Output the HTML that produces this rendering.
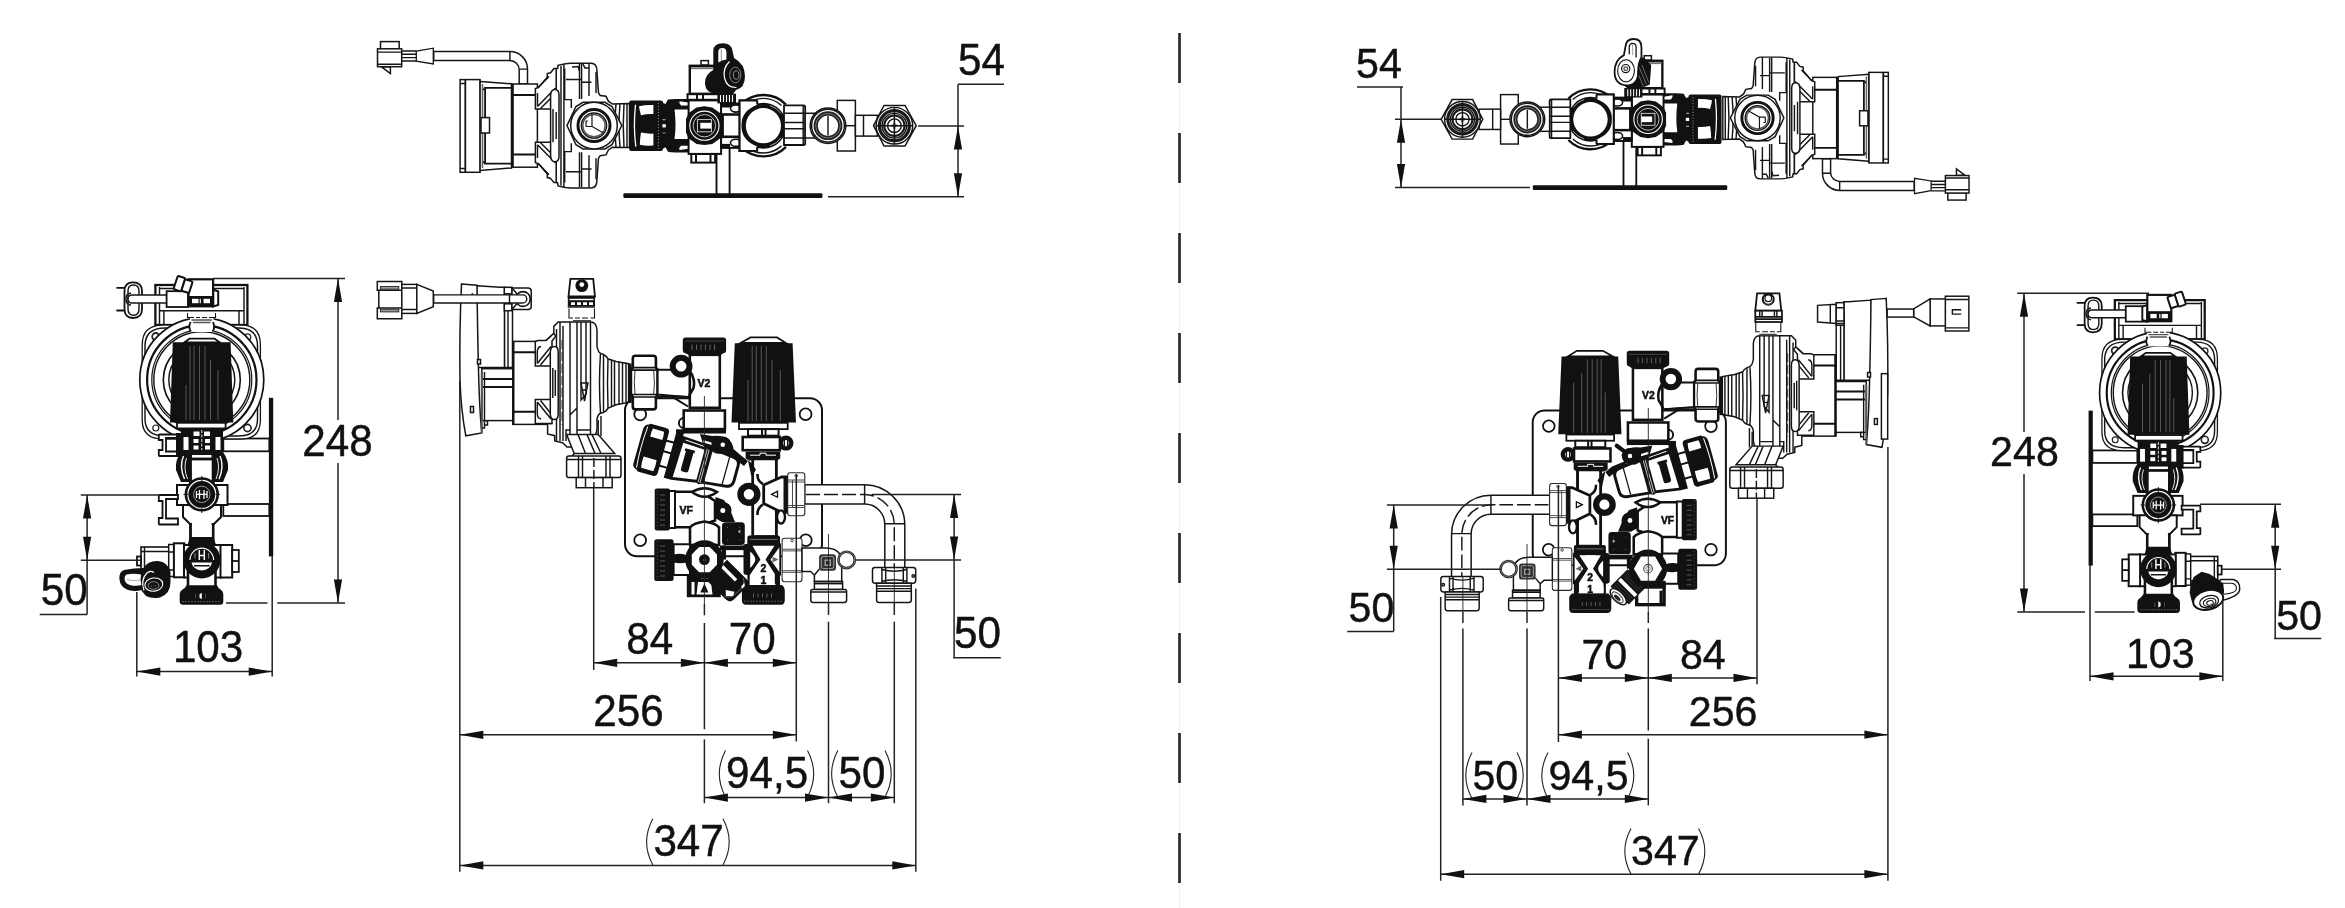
<!DOCTYPE html>
<html><head><meta charset="utf-8"><title>Dimensions</title>
<style>
html,body{margin:0;padding:0;background:#fff;}
body{width:2345px;height:908px;overflow:hidden;font-family:"Liberation Sans",sans-serif;}
svg{display:block;position:absolute;left:0;top:0;will-change:transform;}
.t{fill:none;stroke:#151515;stroke-width:1.45;}
.t2{fill:none;stroke:#111;stroke-width:1.8;}
.m{fill:none;stroke:#111;stroke-width:2;}
.h{fill:none;stroke:#111;stroke-width:3;}
.w{fill:#fff;stroke:#151515;stroke-width:1.5;}
.w2{fill:#fff;stroke:#111;stroke-width:1.8;}
.wm{fill:#fff;stroke:#111;stroke-width:2;}
.wh{fill:#fff;stroke:#111;stroke-width:3;}
.k{fill:#111;stroke:none;}
.ww{fill:#fff;stroke:none;}
.g{fill:none;stroke:#3a3a3a;stroke-width:0.9;}
.gw{fill:#fff;stroke:#2a2a2a;stroke-width:1.1;}
.d{fill:none;stroke:#222;stroke-width:1.5;}
.dd{fill:none;stroke:#222;stroke-width:1.1;stroke-dasharray:26 4 5 4;}
.ar{fill:#111;stroke:none;}
text{font-family:"Liberation Sans",sans-serif;fill:#111;}
.n{font-size:42.2px;stroke:#111;stroke-width:0.45px;}
.nr{font-size:41.2px;stroke:#111;stroke-width:0.45px;}
.lb{font-size:10px;font-weight:bold;}
.pa{fill:none;stroke:#222;stroke-width:1.1;}
.cl{fill:none;stroke:#222;stroke-width:0.9;}

</style></head><body>
<svg width="2345" height="908" viewBox="0 0 2345 908">
<defs>
<g id="toppump">
<!-- connector + cable -->
<rect class="w" x="380.5" y="41.6" width="18.7" height="7.5"/>
<rect class="w" x="377.5" y="48.8" width="24.2" height="17.9"/>
<path class="t" d="M377.5,52.1H401.7M377.5,64.2H401.7"/>
<polygon class="w" points="381.6,66.9 390.4,66.9 390.4,73.5"/>
<path class="t" d="M401.7,51H416.3M401.7,54.3H416.3M401.7,57.6H416.3M401.7,60.9H416.3"/>
<polygon class="w" style="stroke-width:1.3" points="416.3,51.2 433.3,48.2 433.3,63.9 416.3,61.2"/>
<path class="w" d="M433.7,51.5H509.9A17.6,17.6 0 0 1 527.5,69.1V84H519.2V69.9A9.3,9.3 0 0 0 509.9,60.6H433.7Z"/>
<path class="t" d="M509.9,51.5V60.6M519.2,69.1H527.5"/>
<!-- display -->
<rect class="w" x="460.1" y="79.6" width="20" height="92.7"/>
<path class="t2" d="M465.3,79.6V172.3"/>
<path class="t" d="M460.1,83.5H465.3M460.1,168.4H465.3"/>
<polygon class="w" points="480.1,81.4 511.5,83.8 511.5,168 480.1,170.4"/>
<path class="t" d="M482.5,84V168" style="stroke:#666;stroke-width:1.6"/>
<path class="t2" d="M512.1,87.9H485.1V163.6H512.1" style="stroke-width:1.8"/>
<path class="t" d="M483,90L485.1,87.9M483,161.5L485.1,163.6"/>
<rect class="w" x="481" y="117.6" width="8.5" height="15.4"/>
<rect class="w" x="512.6" y="84" width="24.8" height="83.2"/>
<path class="t2" d="M512.6,84V167.2" style="stroke-width:2.2"/>
<path class="t2" d="M513.2,95H536M513.2,154.5H536" style="stroke-width:2"/>
<!-- pump housing -->
<path class="w" d="M556.2,75.0 L556.2,69.0 L557.7,68.2 L558.0,65.3 L565.5,63.8 L570.5,63.3 L591.0,63.3 Q596.9,63.3 596.9,70.7 L598.5,93 L600.2,95.5 L606,96.3 L608.4,101.2 L612.5,104 L629.5,103.6 V147.5 L612.5,147.2 L608.4,150.0 L606,154.9 L600.2,155.7 L598.5,158.2 L596.9,180.5 Q596.9,187.9 591,187.9 L591.0,187.9 L570.5,187.9 L565.5,187.4 L558.0,185.9 L557.7,183.0 L556.2,182.2 L556.2,176.2 Z"/>
<path class="t" d="M561,66V185.5M563.9,64.5V187M564.7,68.6V99.6H571.3V108M564.7,182.6V151.6H571.3V143.2"/>
<path class="t" d="M566,79.4H581M582,82.2H591.5M579.5,64V99M581.6,64V99M589,63.5V96M596,72V93"/>
<path class="t" d="M566,171.8H581M582,169.0H591.5M579.5,187.2V152.2M581.6,187.2V152.2M589,187.7V155.2M596,179.2V158.2"/>
<path class="t" d="M572,67L578,66.5 579.5,71M583,64L585,68H589"/>
<!-- brackets -->
<path class="w" d="M535.4,109.0 L535.4,88.5 L538.3,87.6 L547.3,77.3 L547.3,73.6 L550.6,72.8 L553.9,68.6 L556.2,68.6 L556.2,109.0 Z"/>
<path class="t" d="M537.5,106.5L555.5,88M540.5,108.5L556,93M537.5,106.5V93M538.3,87.6L549,76.5"/>
<path class="w" d="M535.4,142.2 L535.4,162.7 L538.3,163.6 L547.3,173.9 L547.3,177.6 L550.6,178.4 L553.9,182.6 L556.2,182.6 L556.2,142.2 Z"/>
<path class="t" d="M537.5,144.7L555.5,163M540.5,142.7L556,158M537.5,144.7V158M538.3,163.6L549,174.7"/>
<path class="w" d="M550.6,109V95Q551,89.5 555,89.5Q559,89.5 559,95V156Q559,161.7 555,161.7Q551,161.7 550.6,156V142.2Z"/>
<path class="t" d="M553,109V142.2M556.2,112V139"/>
<!-- neck ribs -->
<path class="t" d="M616,104Q614,125.6 616,147M620,104Q618,125.6 620,147M624,103.8Q622.5,125.6 624,147.2M627,103.7V147.4"/>
<!-- volute -->
<polygon class="w" points="567,125.6 576,106.5 583,102.3 605,102.3 612,106.5 621.8,125.6 612,144.7 605,149 583,149 576,144.7"/>
<circle class="w" cx="594" cy="125.6" r="23.3"/>
<circle cx="594" cy="125.6" r="16" fill="#fff" stroke="#111" stroke-width="3"/>
<circle class="t" cx="594" cy="125.6" r="12.6"/>
<circle class="t" cx="594" cy="125.6" r="11.2" style="stroke:#555"/>
<path class="t" d="M592,114.5V126.5L603.5,133M592,126.5H586M586,121V126.5M586,121H588" style="stroke-width:1.2"/>

</g>
<g id="topvalve">
<!-- stand + base -->
<path class="m" d="M716.5,150V194M729.6,140V194" style="stroke-width:1.9"/>
<rect class="k" x="623.4" y="193.2" width="199" height="4.8" rx="1"/>
<!-- solenoid box -->
<rect class="w" x="701" y="60.6" width="7.4" height="4.5"/>
<rect x="689.8" y="65.8" width="26" height="28" fill="#fff" stroke="#111" stroke-width="2.4"/>
<path d="M691,68.2H715" stroke="#777" stroke-width="2" fill="none"/>
<rect class="wm" x="687.5" y="94.2" width="34.5" height="5.6"/>
<path class="m" d="M697,94.2V99.8M703,94.2V99.8"/>
<!-- black nut -->
<path class="k" d="M631,100.4H661Q663.2,100.4 663.2,103L665.5,104 668,99.5Q670,98.9 676,98.9H688.4V152.4H676Q670,152.4 668,151.8L665.5,147.3 663.2,148.5Q663.2,150.9 661,150.9H631Q629.2,150.9 629.2,149V102.3Q629.2,100.4 631,100.4Z"/>
<path class="ww" d="M639,106.2Q646,104.6 653.4,105V114Q646,113.8 641,115.2Q639.3,110 639,106.2Z"/>
<path class="ww" d="M641,132.5Q646,133.8 653.4,133.6V145.5Q646,146 639.8,144.8Q640,138 641,132.5Z"/>
<path d="M635.5,104.8Q633.2,125.6 635.8,146.6" fill="none" stroke="#fff" stroke-width="1.3"/>
<path d="M658.4,103V149" fill="none" stroke="#bbb" stroke-width="0.7" stroke-dasharray="1.2 1.8"/>
<path d="M662.5,119.7H665.5M662.5,133H665.5" stroke="#999" stroke-width="1.2" fill="none"/>
<rect class="ww" x="662.4" y="124.2" width="3.4" height="3.2"/>
<path class="ww" d="M674.5,109.6H688.4V139H674.5Q676.5,125 674.5,109.6Z"/>
<path class="ww" d="M679.5,101.2L688.4,102.5V105.5H681Q678.5,103.5 679.5,101.2ZM679.5,150L688.4,148.8V145.8H681Q678.5,147.8 679.5,150Z"/>
<!-- valve box -->
<rect class="wm" x="691.3" y="154" width="23.8" height="8.6"/>
<path class="m" d="M696,154V162.6M710.5,154V162.6"/>
<rect x="688.6" y="100.4" width="32.5" height="53.5" fill="#fff" stroke="#111" stroke-width="2"/>
<path class="k" d="M696.5,107.5L704.4,106.3 712.3,107.5 720,113 722.7,119 722.7,132.4 720,138.4 712.3,143.9 704.4,145.1 696.5,143.9 688.8,138.4 686,132.4 686,119 688.8,113Z"/>
<circle cx="704.4" cy="125.7" r="14.6" fill="none" stroke="#fff" stroke-width="1.1"/>
<circle cx="704.4" cy="125.7" r="11.2" fill="none" stroke="#eee" stroke-width="0.8"/>
<rect x="697.4" y="119.6" width="14" height="12.2" fill="none" stroke="#ddd" stroke-width="0.9"/>
<rect class="ww" x="700.3" y="122.8" width="11" height="5.8"/>
<!-- link pipe valve -> big circle -->
<rect class="wm" x="721.1" y="103.5" width="20" height="44.4"/>
<rect class="k" x="721.1" y="103.5" width="20" height="4"/>
<rect class="k" x="721.1" y="143.9" width="9" height="4"/>
<ellipse cx="736" cy="108.5" rx="5.5" ry="3.6" fill="#fff" stroke="#111" stroke-width="1.6"/>
<ellipse cx="736" cy="142.8" rx="5.5" ry="3.6" fill="#fff" stroke="#111" stroke-width="1.6"/>
<rect x="722.6" y="114.5" width="21" height="22.3" fill="#fff" stroke="#111" stroke-width="2.6"/>
<!-- big circle assy -->
<path d="M742,103.5A31.5,31.5 0 0 1 786,104.5" fill="none" stroke="#111" stroke-width="2.4"/>
<path d="M742,147.9A31.5,31.5 0 0 0 786,146.9" fill="none" stroke="#111" stroke-width="2.4"/>
<path class="t" d="M745.5,105A27,27 0 0 1 781.5,105.5M745.5,146.4A27,27 0 0 0 781.5,145.9"/>
<rect class="wm" x="739.6" y="100.4" width="17" height="50.5"/>
<circle class="k" cx="763.4" cy="125.7" r="23"/>
<path class="ww" d="M757.2,100.4H739.6V150.9H757.2V146.5Q741,140 741.5,125.7Q741,111 757.2,104.8Z" />
<path class="m" d="M757.2,100.4H739.6V150.9H757.2"/>
<path class="m" d="M757.2,100.4V104.6M757.2,150.9V146.7"/>
<circle class="ww" cx="763.4" cy="125.7" r="17.6"/>
<path d="M770,105.5A21.5,21.5 0 0 1 781,113.5M770,145.9A21.5,21.5 0 0 0 781,137.9" fill="none" stroke="#ccc" stroke-width="0.8"/>
<!-- nut right of big circle -->
<path class="w2" d="M784,105.3H803.5Q805.2,105.3 805.2,107V143.3Q805.2,145 803.5,145H784Z"/>
<path class="t" d="M784,113.3H805.2M784,138H805.2M784,122.5H805.2M784,128.8H805.2M803.2,105.3V145"/>
<!-- pipe -->
<rect class="w" x="805.2" y="113.3" width="33" height="24.7"/>
<!-- T bracket -->
<rect class="w" x="837.3" y="100.4" width="18.1" height="50.6"/>
<path class="t" d="M837.3,125.7H855.4"/>
<!-- ring -->
<circle class="w" cx="828" cy="125.7" r="17.8"/>
<circle class="t" cx="828" cy="125.7" r="16.4"/>
<circle cx="828" cy="125.7" r="12.3" fill="#fff" stroke="#222" stroke-width="4.2"/>
<circle cx="828" cy="125.7" r="12.3" fill="none" stroke="#999" stroke-width="0.7"/>
<path class="t" d="M828,116V135.4"/>
<!-- pipe 2 -->
<rect class="w" x="855.4" y="115.3" width="22" height="20.8"/>
<path class="t" d="M863.5,115.3V136.1"/>
<!-- hex nut -->
<polygon class="w" points="873.6,125.7 884,105.5 905,105.5 916.2,125.7 905,146 884,146"/>
<circle class="t" cx="894.4" cy="125.7" r="18.3"/>
<circle cx="894.4" cy="125.7" r="15" fill="none" stroke="#1a1a1a" stroke-width="3.2"/>
<circle class="t" cx="894.4" cy="125.7" r="12.3"/>
<circle cx="894.4" cy="125.7" r="10.2" fill="none" stroke="#1a1a1a" stroke-width="2.2"/>
<circle class="t" cx="894.4" cy="125.7" r="6.8"/>
<path class="t" d="M876,125.7H913M894.4,107V144.5"/>
<path class="t2" d="M891.4,125.7H897.4M894.4,122.7V128.7"/>

</g>
<g id="frontpump">
<!-- terminal box / display side -->
<path class="w" d="M476.7,285.7L500,287.3 504.6,287.3V367.5H476.7Z"/>
<path class="w" d="M504.6,300V367.5H512.5V300Z"/>
<path class="t" d="M508,300V367.5"/>
<path class="w" d="M461.5,283.9L477,285.2Q477.5,330 478.5,370Q479.5,410 481.8,433L465.8,435.8Q461,410 460,381Q459.3,330 461.5,283.9Z"/>
<rect class="w" x="477.5" y="359.5" width="3" height="4.6"/>
<rect class="w" x="470.5" y="406.5" width="3" height="6"/>
<!-- motor part 1 -->
<rect class="w" x="481.8" y="368.7" width="31.6" height="51.9"/>
<path class="t2" d="M483,378.9H513.4M483,387H513.4" style="stroke-width:2"/>
<path class="t" d="M481.8,372V433" style="stroke:#555;stroke-width:2"/>
<path class="t" d="M484.5,372V428H481.8M484.5,420.6H487.5V425H484.5"/>
<!-- motor part 2 -->
<rect class="w" x="512.8" y="341.4" width="38.6" height="83"/>
<path class="t2" d="M513.4,341.4V424.4" style="stroke-width:2.2"/>
<path class="t2" d="M513.4,352.3H536M513.4,411.8H536" style="stroke-width:2"/>
<!-- pump housing -->
<path class="w" d="M551.4,343.4V336H553.8V326.4L558.2,322H590.8Q596.3,322 597,330V346Q598,352.5 601,353.5Q606,355 607.8,358.8L616,361.5 628.6,363.7V402.4L616,404.7 607.8,408.3Q606,412 601,413Q598,414 597,419V429Q596.5,437 590,438.5L584,441 580,447H567L562.6,442.8 554.7,441V435.7L547.6,434V423.4H551.4Z"/>
<path class="t" d="M556.5,329V441M560,322V441M563,326V441"/>
<path d="M562,340V425" fill="none" stroke="#222" stroke-width="0.9" stroke-dasharray="9 3"/>
<path class="t" d="M570,322V415L577,408V322M581,322V400L586,394V322M590.5,322V436M570,415V441M577,408V441H590"/>
<path class="t" d="M577,430H590M566,441V430H570"/>
<path class="t" d="M581,383H588L584.5,401ZM582.5,390H586.5"/>
<path class="t" d="M600.5,353.5Q598.5,383 600.5,413M603.5,355V411.5M608,359Q607,383 608,408M611.5,360V406M614.5,361V405.5M619,362V404.5M622.5,362.8V403.5M626,363.2V403"/>
<!-- brackets -->
<path class="w" d="M535.3,341.5L538,340.5H546L553.5,333.5 556,336 552,341V366.1H535.3Z"/>
<path class="t" d="M537.3,363.5L551,346.5M540.5,365L552,351M537.3,363.5V352Q537.3,347 541,346.5M546,340.5L552,335"/>
<path class="w" d="M535.3,399.6H552V423.4H535.3Z"/>
<path class="t" d="M537.3,402L551,419M540.5,400.5L552,415M537.3,402V413.5Q537.3,418.5 541,419"/>
<path class="w" d="M550.3,366.1V352Q550.5,346.5 554.3,346.5Q558.2,346.5 558.2,352V414Q558.2,419.6 554.3,419.6Q550.5,419.6 550.3,414V399.6Z"/>
<path class="t" d="M552.8,368V398M555.3,370V396"/>
<!-- air vent -->
<path class="t" d="M569,308.5V318H573M594.5,308.5V318H590.5M575,318H580M582,318H588" style="stroke-width:1.1"/>
<path class="t" d="M573,321H591" style="stroke:#444;stroke-width:2"/>
<!-- outlet and union nut -->
<path class="w" d="M566.6,434.6H598.2L614.7,453.5H574.2Z"/>
<path class="t" d="M578,434.6L585.5,453.5M587,434.6L595,453.5M592,434.6L601,453.5M574.2,453.5L572,456"/>
<path class="t" d="M598.2,434.6V420M601,436V416"/>
<path class="w" d="M569,456H618.5Q621,456 621,458.5V475Q621,477.6 618.5,477.6H569Q566.6,477.6 566.6,475V458.5Q566.6,456 569,456Z"/>
<path class="t" d="M578.5,456V477.6M582.5,456V477.6M606,456V477.6M610,456V477.6M566.6,459.5H621"/>
<rect class="w" x="576.2" y="477.6" width="36" height="10.1"/>
<path class="t" d="M585.5,477.6V487.7M603,477.6V487.7"/>
<path class="t" d="M593.9,458V488" style="stroke-dasharray:9 3"/>

</g>
<g id="frontvalve">
<!-- mounting plate -->
<rect x="625" y="398.2" width="197" height="158" rx="12" ry="12" fill="#fff" stroke="#111" stroke-width="2"/>
<circle class="w2" cx="640.2" cy="414.4" r="5.9"/>
<circle class="w2" cx="805.6" cy="414.2" r="5.9"/>
<circle class="w2" cx="640.2" cy="540.2" r="5.9"/>
<circle class="w2" cx="805.8" cy="540.3" r="5.9"/>
<!-- elbow pipe right -->
<path class="w" d="M804.7,484.7H864.6A40.2,40.2 0 0 1 904.8,524.9V568H884.8V524.9A20.2,20.2 0 0 0 864.6,504.1H804.7Z"/>
<path class="t" d="M864.6,484.7V504.1M884.8,523.8H904.8"/>
<path class="t" d="M806,494.4H864.6A30.2,30.2 0 0 1 894.3,524.9V568" style="stroke-dasharray:14 4"/>
<!-- upper union nut (thin) -->
<path class="gw" d="M790,472.8H802.5Q804.8,472.8 804.8,475.5V513Q804.8,515.7 802.5,515.7H790Q787.7,515.7 787.7,513V475.5Q787.7,472.8 790,472.8Z"/>
<path class="g" d="M787.7,480H804.8M787.7,482H804.8M787.7,505.5H804.8M787.7,507.5H804.8M792.5,480V507.5"/>
<circle class="g" cx="796.3" cy="475.8" r="1.3"/>
<!-- lower union nut (thin) -->
<path class="gw" d="M784.5,538.2H799.7Q802,538.2 802,540.8V579Q802,581.7 799.7,581.7H784.5Q782.1,581.7 782.1,579V540.8Q782.1,538.2 784.5,538.2Z"/>
<path class="g" d="M782.1,549.2H802M782.1,550.9H802M782.1,570.7H802M782.1,572.3H802"/>
<circle class="g" cx="792" cy="540.6" r="1.3"/>
<!-- small elbow fitting -->
<path class="w" d="M802,548H825Q841.7,548 841.7,562V581.6H814.4V575L810.5,571.5H802Z"/>
<path class="t" d="M814.4,575L819.5,569"/>
<path class="w" d="M814.4,581.6H842.6V589.5H814.4Z"/>
<path class="t2" d="M814.4,583.5H842.6" />
<path class="w" d="M812.5,589.5H845Q846.6,589.5 846.6,591.5V600Q846.6,602.4 844.5,602.4H813Q810.8,602.4 810.8,600V591.5Q810.8,589.5 812.5,589.5Z"/>
<path class="t" d="M810.8,592H846.6"/>
<circle cx="846.6" cy="559.9" r="8.2" fill="#fff" stroke="#222" stroke-width="2.6"/>
<circle cx="846.6" cy="559.9" r="8.2" fill="none" stroke="#aaa" stroke-width="0.6"/>
<rect x="819.1" y="554.3" width="16.9" height="16.4" rx="3" fill="#333"/>
<rect x="821.3" y="556.5" width="12.5" height="12" rx="2" fill="none" stroke="#bbb" stroke-width="0.8"/>
<rect x="824.5" y="559.5" width="6.5" height="6.5" fill="#999"/>
<path d="M826,561H829.5V564.5H826Z" fill="#222"/>
<!-- right union nut at bottom -->
<path class="w" d="M875,567.5H913Q915.7,567.5 915.7,570V580.6Q915.7,583.3 913,583.3H875Q872.5,583.3 872.5,580.6V570Q872.5,567.5 875,567.5Z"/>
<path class="t" d="M881.9,567.5V583.3M885.7,567.5V583.3M903.3,567.5V583.3M906.9,567.5V583.3M881.9,569.5Q894,573 906.9,569.5M881.9,581.3Q894,578 906.9,581.3"/>
<circle class="t" cx="913.3" cy="576" r="1.3"/>
<path class="w" d="M876.6,583.3H911.3V600Q911.3,602.4 909,602.4H879Q876.6,602.4 876.6,600Z"/>
<path class="t" d="M876.6,586H911.3M876.6,588.6H911.3M876.6,591.3H911.3"/>
<!-- hex nut to pump -->
<path d="M635.5,355.8H653.3Q655.9,355.8 655.9,358.4V367.5L657.6,369.5V395L655.9,397V406.8Q655.9,409.4 653.3,409.4H635.5Q632.8,409.4 632.8,406.8V397L630.9,395V369.5L632.8,367.5V358.4Q632.8,355.8 635.5,355.8Z" fill="#fff" stroke="#111" stroke-width="2.6" stroke-linejoin="round"/>
<path d="M632.8,367.6H655.9M631,370.2H657.5M631,394.5H657.5M632.8,397H655.9" fill="none" stroke="#111" stroke-width="1.7"/>
<path class="t" d="M635,371Q633.6,382.5 635,394M653.7,371Q655.1,382.5 653.7,394" style="stroke:#333;stroke-width:1"/>
<rect class="k" x="628.4" y="363.5" width="3.2" height="39.5"/>
<!-- pipe nut->V2 -->
<path class="wm" d="M657.6,369.7H691V397.4L657.6,394.6Z"/>
<path class="m" d="M657.6,397L672,396.6 688,406.5M670,396L689,397"/>
<!-- V2 valve -->
<path class="k" d="M685.5,337.4H723.4Q726.1,337.4 726.1,340V350.8Q726.1,353 723.5,353.3L721,354.8H688.5L685.4,353.3Q682.8,353 682.8,350.8V340Q682.8,337.4 685.5,337.4Z"/>
<path d="M692,344.5V350M696.5,344.5V350M701,344.5V350M705.5,344.5V350M710,344.5V350M714.5,344.5V350" stroke="#777" stroke-width="0.8" fill="none"/>
<path d="M685,341H724" stroke="#666" stroke-width="0.6" fill="none"/>
<rect x="689.8" y="354.8" width="30" height="53" fill="#fff" stroke="#111" stroke-width="2.6"/>
<rect x="683.7" y="410.5" width="41.2" height="18.6" fill="#fff" stroke="#111" stroke-width="2.6"/>
<!-- ring on V2 -->
<path d="M690.5,372Q695.5,380 693.5,388Q690.5,393 689,396" fill="none" stroke="#111" stroke-width="2.6"/>
<circle cx="681.1" cy="366.2" r="8.4" fill="#fff" stroke="#111" stroke-width="6"/>
<!-- small arc ring left of lower nut -->
<path d="M684,418A5,5 0 0 0 683.7,428" fill="none" stroke="#111" stroke-width="2"/>
<!-- actuator -->
<path class="w2" d="M740.6,343L750.5,337.4H777L786,343Z"/>
<path class="k" d="M734.8,343.2H792.6L796,422.5H731.5Z"/>
<path d="M752.2,346V421M756.3,346V421M761.3,346V421M766.3,346V421M772,360V421M780.3,370V421M748,380V421" stroke="#8a8a8a" stroke-width="0.6" fill="none"/>
<rect class="w2" x="739" y="422.8" width="48.7" height="6.3"/>
<rect class="wm" x="748" y="429.1" width="30.6" height="6.6"/>
<path class="m" d="M762,429.1V435.7M765.5,429.1V435.7"/>
<circle cx="786" cy="443.1" r="5.3" fill="#fff" stroke="#111" stroke-width="4.4"/>
<path class="t" d="M784.3,440V446.2M787.7,440V446.2"/>
<rect x="742.7" y="437" width="37.2" height="13.2" fill="#fff" stroke="#111" stroke-width="2.6"/>
<path class="k" d="M745.6,451.4H780.2V458.5L777,460.5H749L745.6,458.5Z"/>
<path d="M750,455.2H760V453.2H766V455.2H776" stroke="#fff" stroke-width="1" fill="none"/>
<!-- vertical pipe -->
<path d="M752.8,459V536M776.3,459V480M776.3,510V536" fill="none" stroke="#111" stroke-width="3"/>
<rect class="ww" x="754.3" y="460.5" width="20.5" height="76"/>
<path class="k" d="M748,460.5Q752,462 756,470L751.3,476Z"/>
<!-- right triangle port -->
<path d="M763.7,485L781.5,477H786V512.3H781.5L763.7,503.5Z" fill="#fff" stroke="#111" stroke-width="2.8" stroke-linejoin="round"/>
<path class="k" d="M783.5,476H787.5V513.5H783.5Z"/>
<path d="M771.5,494.3L777.5,491.3V497.3Z" fill="#fff" stroke="#111" stroke-width="1.3"/>
<path d="M763,484Q757,481 757.5,474M763,504.5Q757,508 757.5,515" fill="none" stroke="#111" stroke-width="2.6"/>
<ellipse cx="781" cy="517" rx="4" ry="6.6" fill="#fff" stroke="#111" stroke-width="2.4"/>
<!-- ring mid -->
<circle cx="748.9" cy="494.3" r="8.4" fill="#fff" stroke="#111" stroke-width="6.4"/>
<!-- angled compression fitting -->
<g transform="translate(651.7,450) rotate(15.5)">
<path class="k" d="M19,-26H26.5V-22L52,-20.5 54,-20.5 58,-19 82,-16.5Q89,-15 89,-8V8Q89,15 82,16.5L58,19 54,20.5 52,19.5 26.5,23.5H19Z"/>
<path class="ww" d="M28.5,-15.5L51,-14.3V16.6L27.5,20.5Z"/>
<path class="ww" d="M59,-16L81,-13.5Q86,-12.5 86,-8V8Q86,12.5 81,13.5L59,16Z"/>
<path d="M53.3,-18.5V18.5M55.3,-19V19" stroke="#fff" stroke-width="0.7" fill="none"/>
<path class="ww" d="M30,-19.3L50,-17.9V-16.9L30,-18.3Z"/>
<path class="k" d="M33.2,-7.5Q33.2,-10 35.7,-10H38.5Q41,-10 41,-7.5V10Q41,12.5 38.5,12.5H35.7Q33.2,12.5 33.2,10Z"/>
<path class="k" d="M32,-10.8H42V-8H32Z"/>
<path d="M77,-14V14" stroke="#111" stroke-width="1.3" fill="none"/>
<rect x="10" y="-13" width="10" height="26" fill="#fff" stroke="#111" stroke-width="2"/>
<path class="m" d="M10,-2H20"/>
<path class="k" d="M-9,-24Q-9,-25 -7,-25H8Q12,-25 12,-21V20Q12,24.5 8,24.5H-7Q-9,24.5 -9,23Q-14,22 -14,18V-17Q-14,-23 -9,-24Z"/>
<path class="ww" d="M-4.5,-21H7Q8,-16.5 7.5,-12.5H-5Q-5.5,-17 -4.5,-21Z"/>
<path class="ww" d="M-6,8.5H7.5Q8.2,14 7.2,20H-5.5Q-6.6,14 -6,8.5Z"/>
<path d="M-10,-21.5Q-12,0 -10,21" stroke="#fff" stroke-width="1" fill="none"/>
</g>
<!-- VF fitting -->
<path class="wh" d="M674.5,491.8H700Q706,491.8 709,497L715,501V520.5L709,522.5Q706,527.3 700,527.3H674.5Z" style="stroke-width:2.6"/>
<path class="wm" d="M669,491H675V528H669Z"/>
<path class="k" d="M657,488.5H668Q669.8,488.5 669.8,490.5V528.6Q669.8,530.6 668,530.6H657Q654.7,530.6 654.7,528.6V490.5Q654.7,488.5 657,488.5Z"/>
<path d="M660,495H665M660,500H665M660,505H665M660,510H665M660,515H665M660,520H665M660,525H665" stroke="#777" stroke-width="0.7" fill="none"/>
<path d="M657.3,490V529" stroke="#666" stroke-width="0.6" stroke-dasharray="1.5 2" fill="none"/>
<!-- lens between angled fitting and VF -->
<path d="M692,492Q704.5,484.5 717,492Q704.5,501.5 692,492Z" fill="#fff" stroke="#111" stroke-width="2.6"/>
<!-- column under VF -->
<path d="M690,527.3Q694,523 704.4,521.5Q715,523 719,527.3V545H690Z" fill="#fff" stroke="#111" stroke-width="2.6"/>
<!-- small ring -->
<path class="k" d="M715.5,497L724,500 731,512 735,522H722L715,518Z"/>
<circle cx="722.8" cy="510.5" r="5.6" fill="#fff" stroke="#111" stroke-width="6.2"/>
<!-- black tag -->
<rect class="k" x="722" y="522.2" width="22.8" height="22.8" rx="3.5"/>
<path d="M737.8,531.5L740.3,529.6V533.4Z" fill="#bbb"/>
<path d="M727,527.5H728M739,527.5H740M727,540H728M739,540H740" stroke="#666" stroke-width="1" fill="none"/>
<!-- lower-left fitting -->
<path class="wm" d="M673.6,544.2H690V575H673.6Z"/>
<path class="k" d="M657,539.3H671.5Q673.6,539.3 673.6,541.5V554.5Q680,553 686.3,555V562.5Q680,564 673.6,562.5V579Q673.6,581.1 671.5,581.1H657Q654.3,581.1 654.3,579V541.5Q654.3,539.3 657,539.3Z"/>
<path d="M660,546H665M660,551H665M660,556H665M660,561H665M660,566H665M660,571H665M660,576H665" stroke="#777" stroke-width="0.7" fill="none"/>
<path d="M657.3,541V580" stroke="#666" stroke-width="0.6" stroke-dasharray="1.5 2" fill="none"/>
<!-- link bar between ball valve and 2/1 valve -->
<rect class="k" x="720" y="545.5" width="26" height="4.6"/>
<rect class="k" x="722" y="545.5" width="4" height="14"/>
<!-- 2/1 valve -->
<rect x="753.2" y="536.5" width="22.8" height="9" fill="#fff" stroke="#111" stroke-width="2.6"/>
<rect class="k" x="747.4" y="535.4" width="32.6" height="8.3" rx="2"/>
<path d="M750,539.4H777.5" stroke="#888" stroke-width="0.8" fill="none"/>
<path class="k" d="M747.4,541H780V545L768.5,559.6 780,574V586H747.4V574L757.8,559.6 747.4,545Z"/>
<path class="k" d="M743.5,545.5Q743.5,543.7 747.4,543.7H750.5L758,559.6 750.5,575H747.4Q743.5,575 743.5,572.5Z"/>
<path class="k" d="M781,544Q781,543 779,543H777L768.3,559.6 777,576H779Q781,576 781,574.5Z"/>
<path class="ww" d="M750.2,551.5Q755.3,556 755.3,559.6Q755.3,563 750.2,568Z"/>
<path class="ww" d="M779.3,547.5L770.5,559.6 779.3,572Z"/>
<path d="M778.5,559.6L772.5,556.7V562.5Z" fill="#666"/>
<path class="ww" d="M757.8,546H768.5L760.5,559.6 768.5,573.5 775.8,585H749.8V577.5L757.8,573.5 765.5,559.6Z"/>
<path class="ww" d="M752.5,545.8H774.5L765.5,559.6 774.8,574V585H749.8V575L760.5,559.6Z"/>
<path class="k" d="M745,585H782Q784.8,587 784.8,590V600Q784.8,604.8 781,604.8H746Q741.9,604.8 741.9,600V590Q741.9,587 745,585Z"/>
<path d="M753.5,593.5V597.5M758,593.5V597.5M762.5,593.5V597.5M767,593.5V597.5M771.5,593.5V597.5" stroke="#777" stroke-width="0.8" fill="none"/>
<path d="M744,601.2H782.5" stroke="#666" stroke-width="0.8" stroke-dasharray="2 1" fill="none"/>

</g>
<g id="sideA">
<!-- wall bar + brackets -->
<rect class="k" x="268.9" y="397.8" width="4.3" height="158.6"/>
<rect class="wm" x="223.3" y="438.5" width="46" height="12.8" style="stroke-width:1.8"/>
<rect class="wm" x="223.3" y="504" width="46" height="12" style="stroke-width:1.8"/>

</g>
<g id="sidepump">
<!-- electrical box -->
<rect x="155.4" y="285" width="92" height="40" fill="#fff" stroke="#111" stroke-width="2.3"/>
<path class="t" d="M159.5,287V325M244,287V325M159.5,310.8H244M163.9,310.8V325M239,310.8V325M159.5,288.5H244"/>
<!-- connector -->
<path class="t2" d="M116.4,287.9H125M116.4,310.5H125"/>
<path class="w2" d="M133,282.4Q142,282.4 142,291V309Q142,318 133,318Q124.5,318 124.5,309V291Q124.5,282.4 133,282.4Z"/>
<path class="t" d="M133.5,285Q139,285 139,291V309Q139,315.2 133.5,315.2Q128,315.2 128,309V291Q128,285 133.5,285Z"/>
<path class="w" d="M132,295H168V303H132Q128,303 128,299Q128,295 132,295Z"/>
<path class="t" d="M131,293Q126,293.5 126,299Q126,304.5 131,305.2"/>
<rect class="w2" x="166.6" y="291.2" width="21.4" height="15.8"/>
<!-- pump housing -->
<path class="w" d="M163,325.1H241Q260.4,325.1 260.4,345V420Q260.4,439 241,439H163Q142.2,439 142.2,420V345Q142.2,325.1 163,325.1Z" style="stroke-width:1.3"/>
<path class="t" d="M165,328H239Q257.5,328 257.5,346V419Q257.5,436 239,436H165Q145,436 145,419V346Q145,328 165,328Z"/>
<circle cx="155.8" cy="336.6" r="3.6" fill="#fff" stroke="#222" stroke-width="1.8"/>
<circle cx="247.5" cy="337" r="3.2" fill="#fff" stroke="#222" stroke-width="1.3"/>
<circle cx="155.8" cy="428" r="3" fill="#fff" stroke="#222" stroke-width="1.2"/>
<circle cx="247.5" cy="428" r="3.6" fill="#fff" stroke="#222" stroke-width="1.6"/>
<circle cx="201.8" cy="379.8" r="62" fill="#fff" stroke="#111" stroke-width="1.7"/>
<circle cx="201.8" cy="379.8" r="54.7" fill="none" stroke="#111" stroke-width="2.2"/>
<circle cx="201.8" cy="379.8" r="50" fill="none" stroke="#111" stroke-width="1.2"/>
<circle class="t" cx="201.8" cy="379.8" r="48"/>
<circle cx="201.8" cy="379.8" r="38.5" fill="none" stroke="#111" stroke-width="1.6"/>
<circle class="t" cx="201.8" cy="379.8" r="33"/>

</g>
<g id="sideB">
<!-- notch at the top of ring -->
<path class="ww" d="M190,315H213.5V332H190Z"/>
<path class="t2" d="M190.5,322Q188,328 191,331.5M213,322Q215.5,328 212.5,331.5"/>
<!-- actuator -->
<path class="w2" d="M184.5,342.3L189.5,338.7H214.6L219.6,342.3Z"/>
<path class="k" d="M172.8,342.3H230.6L233.3,422.5H170Z"/>
<path d="M190,346V420M194,346V420M199.5,346V420M205,346V420M210.5,360V420M218,370V420M186,385V420" stroke="#8a8a8a" stroke-width="0.6" fill="none"/>
<rect class="w2" x="177" y="422.8" width="48.6" height="5.6"/>
<!-- below actuator: black assembly -->
<path class="k" d="M181,428.4H223V452Q229,460 228,470L223,482H181L176,470Q175,460 181,452Z"/>
<rect class="ww" x="183.5" y="437" width="5" height="13"/>
<rect class="ww" x="215.5" y="437" width="5" height="13"/>
<rect class="ww" x="193.5" y="431.5" width="6" height="4.5"/>
<rect class="ww" x="204" y="431.5" width="6" height="4.5"/>
<rect class="ww" x="193.5" y="439" width="5" height="4"/>
<rect class="ww" x="205" y="439" width="5" height="4"/>
<rect class="ww" x="193.5" y="445.5" width="5" height="4"/>
<rect class="ww" x="205" y="445.5" width="5" height="4"/>
<path d="M201.8,430V450" stroke="#fff" stroke-width="0.9" stroke-dasharray="3 1.5" fill="none"/>
<path class="ww" d="M192,455H211.5V459H192Z"/>
<path d="M183.5,456Q179,466 184.5,479M220,456Q224.5,466 219,479" fill="none" stroke="#fff" stroke-width="1.4"/>
<path d="M186.5,458Q183,468 187.5,479M217,458Q220.5,468 216,479" fill="none" stroke="#fff" stroke-width="0.9"/>
<!-- left T pieces -->
<path class="wm" d="M159.5,434.5H178V438H166V451.5H178V456H159.5Q158.8,456 158.8,455V450H162.5V440H158.8V435.5Q158.8,434.5 159.5,434.5Z" style="stroke-width:1.8"/>
<rect class="k" x="176" y="433" width="6" height="24"/>
<!-- vertical pipe -->
<rect x="190.5" y="459" width="22.6" height="90" fill="#fff" stroke="#111" stroke-width="2.8"/>
<!-- upper valve box -->
<rect class="wm" x="177" y="485" width="50.5" height="20"/>
<path class="wm" d="M183,505H221V517L214,524H190L183,517Z"/>
<path class="wm" d="M159.5,495H178V499H166V518.5H178V524.5H159.5Q158.8,524.5 158.8,523.5V518H162.5V501H158.8V496Q158.8,495 159.5,495Z" style="stroke-width:1.8"/>
<rect class="ww" x="192" y="500" width="19.6" height="40"/>
<circle class="k" cx="201.8" cy="494.4" r="17.2"/>
<circle cx="201.8" cy="494.4" r="14" fill="none" stroke="#fff" stroke-width="1.2"/>
<path d="M201.8,476V481M201.8,508V513M183.5,494.4H188M215.5,494.4H220" stroke="#111" stroke-width="1" fill="none"/>
<circle cx="201.8" cy="494.4" r="8.2" fill="none" stroke="#ccc" stroke-width="0.7"/>
<path d="M196.5,491V498M199.5,490V499M204,490V499M207,491V498M196.5,494.4H207" stroke="#fff" stroke-width="1.3" fill="none"/>
<!-- lower valve box -->
<path class="k" d="M190,537H213.5L216,545H187.5Z"/>
<rect class="wm" x="141" y="547" width="30" height="25" style="stroke-width:1.6"/>
<path class="t" d="M144.5,547V572M141,551.5H171"/>
<rect class="w2" x="137" y="556.5" width="4" height="9"/>
<rect class="w" x="168.7" y="544.5" width="5.5" height="32"/><rect class="wm" x="173.9" y="543.3" width="10.5" height="34"/>

<path class="t" d="M168.7,552H174M168.7,570H174"/>
<rect class="wm" x="184" y="545" width="37" height="32.5"/>
<rect class="wm" x="220.5" y="545" width="11.7" height="32.5"/>
<rect class="wm" x="232.2" y="550" width="6.6" height="22" style="stroke-width:1.8"/>
<path class="t2" d="M232.2,561H238.8"/>
<path class="wh" d="M188,570H215.5V588.5H188Z" style="stroke-width:2.6"/>
<circle class="k" cx="201.8" cy="559.9" r="18.6"/>
<path d="M190,559.9A11.8,11.8 0 0 1 213.6,559.9" fill="none" stroke="#fff" stroke-width="1.1"/>
<path class="ww" d="M191.5,562.5H212.1Q210.5,569.5 201.8,570.5Q193,569.5 191.5,562.5Z"/>
<path class="k" d="M194,565H209.6V566.5H194Z"/>
<path d="M199.3,550V560M204.3,550V560M199.3,555.5H204.3" stroke="#fff" stroke-width="1.5" fill="none"/>
<path d="M195,553V558.5M208.6,553V558.5" stroke="#aaa" stroke-width="0.8" fill="none"/>
<!-- bottom cap -->
<path class="k" d="M186.5,585.3H217Q218,588 220.5,589.5Q223.3,591 223.3,594V601.3Q223.3,604.8 220,604.8H183Q179.7,604.8 179.7,601.3V594Q179.7,591 182.5,589.5Q185.5,588 186.5,585.3Z"/>
<path class="ww" d="M199.5,594.3L201.8,592.8V599.2L199.5,597.7Z"/>
<path d="M195.5,594V598.5M205.5,594V598.5" stroke="#666" stroke-width="0.7" fill="none"/>
<path d="M182,601.6H221" stroke="#777" stroke-width="0.7" stroke-dasharray="2 1" fill="none"/>
<!-- top block -->
<path class="wm" d="M213.1,289.5L218.2,291.5V305L213.1,306.5Z"/>
<rect x="188.5" y="279.3" width="24.6" height="27" fill="#fff" stroke="#111" stroke-width="2.2"/>
<path class="k" d="M188.5,296H213.1V306.3H188.5Z"/>
<rect class="ww" x="192" y="298.8" width="6.5" height="4.4"/>
<rect class="ww" x="203.5" y="298.8" width="6.5" height="4.4"/>
<rect class="ww" x="199.7" y="298.8" width="1.2" height="4.4"/>
<g transform="rotate(18 183 284)"><rect class="wm" x="175.5" y="277.8" width="8" height="14" rx="1.5"/><rect class="wm" x="183.5" y="278.8" width="8" height="12" rx="1"/></g>
<path class="t" d="M187.5,313V317.5H194M215.5,313V317.5H209M196,317.5H200M202,317.5H207" style="stroke-width:1.1"/>
<path class="t" d="M191.5,320H212M193,322.5H210.5" style="stroke:#555"/>

</g>
<g id="capL">
<!-- black cap, left variant -->
<path class="k" d="M713.3,62V51Q713.3,43.2 723,43.2Q731.5,43.2 732.5,51L734,58Q745,64 745,76Q745,88 736,90L733,94H717Q705,93 705,83Q705,74 713.3,70Z"/>
<path class="ww" d="M718.3,62.5V52Q718.3,48 722.3,48Q726.4,48 726.4,52V59.5Q722,60 718.3,62.5Z"/>
<path d="M721.3,49V61" stroke="#888" stroke-width="0.9" fill="none"/>
<path d="M729.5,61.5Q722.5,68 724.5,78Q727,88 736.5,87.5" fill="none" stroke="#fff" stroke-width="1.2"/>
<ellipse cx="735.3" cy="75" rx="5.6" ry="7.8" fill="none" stroke="#999" stroke-width="0.8"/>
<ellipse cx="736.2" cy="75" rx="2.8" ry="4.2" fill="none" stroke="#aaa" stroke-width="0.8"/>
<!-- knurl base -->
<rect class="k" x="717.4" y="93.7" width="18.6" height="9.7"/>
<path d="M720.5,95V102M723.5,95V102M726.5,95V102M729.5,95V102M732.5,95V102" stroke="#fff" stroke-width="1.1" fill="none"/>
</g>
<g id="capR" transform="translate(-12.3,0)">
<!-- cap, right variant: white face, black knurl behind -->
<path class="k" d="M713.5,70L722,62 726,66Q731,64 736,66L742,70 747,78 745,88 738,94H724L715,90Z"/>
<path d="M716,88L723,70M718.5,90L726,72M721.5,92L729,74" stroke="#aaa" stroke-width="0.6" fill="none"/>
<path d="M723.5,62V52Q723.5,43.5 731.5,43.5Q739.5,43.5 740,52L741.5,60Q751,65 751,77Q751,90 739,91Q727,91 727,78Q727,68 723.5,62Z" fill="#fff" stroke="#111" stroke-width="1.8"/>
<path d="M729,62.5V52Q729,48 732.5,48Q736,48 736,52V59" fill="none" stroke="#111" stroke-width="1.3"/>
<path d="M732.5,48.5V60" stroke="#888" stroke-width="0.8" fill="none"/>
<ellipse cx="739.3" cy="76" rx="8.6" ry="11.3" fill="none" stroke="#111" stroke-width="1.1"/>
<circle cx="739.6" cy="73.8" r="4.2" fill="none" stroke="#111" stroke-width="1.2"/>
<path d="M737.9,72.2H741.3V75.4H737.9Z" fill="none" stroke="#111" stroke-width="0.9"/>
<rect class="k" x="722.5" y="93.7" width="18.6" height="9.7"/>
<path d="M725.5,95V102M728.5,95V102M731.5,95V102M734.5,95V102M737.5,95V102" stroke="#fff" stroke-width="1.1" fill="none"/>
</g>
<g id="frontpumpL">
<!-- connector, cable over display, end cap -->
<path class="w" d="M377.3,281.5H401.8V318.7H377.3V308H378.8V290.3H377.3Z"/>
<path class="t" d="M378.8,290.3H401.8M378.8,308H401.8"/>
<rect x="380.4" y="286.5" width="18.4" height="2.7" fill="#999" stroke="#222" stroke-width="0.9"/>
<rect x="380.4" y="309.2" width="18.4" height="2.7" fill="#999" stroke="#222" stroke-width="0.9"/>
<rect class="w" x="401.8" y="284.4" width="15" height="29"/>
<path class="t" d="M401.8,288H416.8M401.8,309.5H416.8"/>
<polygon class="w" points="416.8,284.4 433.3,291.1 433.3,306.8 416.8,313.4"/>
<rect class="w" x="504.3" y="287.3" width="7.7" height="6.5"/>
<rect class="w" x="504.3" y="303.8" width="7.7" height="6.9"/>
<path class="w" d="M512,288H528Q531.2,288 531.2,291V306.5Q531.2,309.5 528,309.5H512Z"/>
<path class="t" d="M512,288L517,294M512,309.5L517,303.5"/>
<circle class="t" cx="522.9" cy="299" r="7.4" style="stroke-width:1.7"/>
<path class="w" d="M433.7,294.9H522.7A4.05,4.05 0 0 1 522.7,303H433.7Z" style="stroke-width:1.4"/>
<path class="t" d="M509.5,294.9V303"/>
<circle cx="472.3" cy="294" r="0.9" fill="#222"/>
</g>
<g id="frontpumpR">
<!-- right variant: connector, short cable, small plug behind -->
<rect class="w" x="377.2" y="281.7" width="24" height="35.5"/>
<path class="t" d="M385,295.5H394V300H385M377.2,285H401M377.2,314H401"/>
<rect class="w" x="401.2" y="284.5" width="15.5" height="27.5"/>
<polygon class="w" points="416.7,284.5 433.5,294.6 433.5,302.8 416.7,312"/>
<rect class="w" x="433.5" y="294.8" width="27" height="8.2"/>
<rect class="w" x="460" y="360.7" width="6.4" height="66.7"/>
<path class="w" d="M512.5,290L531.5,291V308L512.5,309.5Z"/>
<path class="t" d="M518.5,290.3V309"/>
<rect class="w" x="504.6" y="288.3" width="7.9" height="23"/>
<path class="t" d="M504.6,293.5H512.5M504.6,307H512.5M504.6,309.5H512.5"/>
</g>
<g id="bvL">
<!-- bottom port -->
<rect class="k" x="686.8" y="574" width="34" height="23.2"/>
<rect class="ww" x="691.5" y="582" width="3" height="12.5"/>
<path class="ww" d="M698,582H711L712.5,594.5H696.5Z"/>
<path class="k" d="M704.4,583.5L708.5,592.5H700.3Z"/>
<path d="M701,578.5H708" stroke="#fff" stroke-width="0.8" fill="none"/>
<!-- angled handle -->
<g transform="translate(720,571) rotate(45)">
<path class="k" d="M-3,-13H24Q30,-13 30,-7V10Q30,16 24,16H-3Z"/>
<rect class="ww" x="-2" y="-6.5" width="20" height="3.4"/>
<path d="M21,-11.5Q27.5,-10 27.5,1.5Q27.5,13 21,14.5" fill="none" stroke="#777" stroke-width="0.8"/>
<path class="ww" d="M17.5,9.5L25,4.5 27,8.5 22,13.5Z"/>
<path class="ww" d="M25.5,-9L28.2,-7 28.2,-3 26,-4Z"/>
</g>
<!-- ball valve -->
<circle class="k" cx="704.4" cy="559.6" r="19.3"/>
<polygon class="ww" points="699.2,547 709.6,547 717,554.4 717,564.8 709.6,572.2 699.2,572.2 691.8,564.8 691.8,554.4"/>
<circle class="ww" cx="704.4" cy="559.6" r="12.4"/>
<circle class="k" cx="704.4" cy="559.6" r="5.4"/>
<path d="M703,560H704M705.3,560H706.3" stroke="#999" stroke-width="0.8" fill="none"/>
</g>
<g id="bvR">
<!-- right variant ball valve -->
<rect x="688" y="576" width="28" height="20.3" fill="#fff" stroke="#111" stroke-width="3.4"/>
<rect class="k" x="689.5" y="582" width="3.2" height="14"/>
<rect class="k" x="686.4" y="572" width="34" height="8"/>
<g transform="translate(716,569.5) rotate(45)">
<path class="k" d="M0,-12.5H24.5V12.5H0Z"/>
<rect class="ww" x="11" y="-12.5" width="4" height="25"/>
<path d="M3,-11V11M5.5,-11V11M8,-11V11M17.5,-11V11M20,-11V11M22.5,-11V11" stroke="#555" stroke-width="0.6" fill="none"/>
<path d="M0,-12.5H24.5M0,12.5H24.5" stroke="#111" stroke-width="1.2" fill="none"/>
<ellipse cx="26.5" cy="0" rx="5.2" ry="10.5" fill="#fff" stroke="#111" stroke-width="1.4"/>
<ellipse cx="27.5" cy="0" rx="3.4" ry="7.3" fill="none" stroke="#333" stroke-width="1"/>
<ellipse cx="28" cy="0" rx="1.8" ry="4.2" fill="#222"/>
</g>
<circle class="k" cx="704.4" cy="559.6" r="19.5"/>
<polygon class="ww" points="690,559.6 697.2,547.2 711.6,547.2 718.8,559.6 711.6,572 697.2,572"/>
<circle cx="704.4" cy="559.6" r="4.4" fill="none" stroke="#444" stroke-width="1.1"/>
<circle cx="704.4" cy="559.6" r="2.3" fill="none" stroke="#666" stroke-width="0.8"/>
</g>
<g id="scapL">
<!-- black cap lower-left -->
<path class="k" d="M124,570Q119,571.5 119.4,579Q120,587 128,590Q136,592 141,590L146,596Q152,599 160,597.5Q170.5,594 170.5,582V572Q168,562 158,561Q148,560.5 143.5,568Q134,568 124,570Z"/>
<path class="ww" d="M126.5,574.5Q124.3,575.5 124.5,579Q125,583.8 130.5,585.2Q137,586.3 141.5,585Q139.8,580 141,574.5Q133,573 126.5,574.5Z"/>
<path d="M126.5,579.5Q133,581.5 140.5,580" fill="none" stroke="#999" stroke-width="0.8"/>
<path d="M144,590.5Q140.5,580 146.5,573.5Q150,570 154,572.5" fill="none" stroke="#fff" stroke-width="1.2"/>
<ellipse cx="153.8" cy="584.6" rx="9" ry="6.6" fill="none" stroke="#fff" stroke-width="1.1" transform="rotate(-8 153.8 584.6)"/>
<ellipse cx="153.5" cy="585.5" rx="5.4" ry="3.8" fill="none" stroke="#aaa" stroke-width="0.8"/>
<path d="M151,586H152.3M154.5,586H155.8" stroke="#999" stroke-width="0.8" fill="none"/>
</g>
<g id="scapR">
<!-- right variant side cap (absolute right coords) -->
<path d="M2221.0,579.6L2233.3,579.5 Q2240.4,581.4 2239.7,589.3 Q2239.5,596.4 2221.0,600.8 L2215.7,601.7 L2218.4,581.4 Z" fill="#fff" stroke="#111" stroke-width="1.5"/>
<path d="M2221.9,583.2 H2232.0 Q2236.9,584.1 2236.4,589.3 Q2236.0,593.3 2223.7,594.2" fill="none" stroke="#111" stroke-width="1.1"/>
<polygon class="k" points="2189.7,592.9 2190.6,584.1 2193.7,577.0 2201.6,571.7 2209.6,573.9 2215.7,577.9 2223.2,583.2 2224.1,591.1 2223.7,594.6 2215.7,592.0 2206.9,592.0 2199.0,596.4 2194.6,603.4 2191.9,601.7"/>
<ellipse cx="2208.2" cy="599.9" rx="15.3" ry="9.6" transform="rotate(-14 2208.2 599.9)" fill="#fff" stroke="#111" stroke-width="2"/>
<ellipse cx="2209.1" cy="601.7" rx="9.6" ry="6" transform="rotate(-14 2209.1 601.7)" fill="none" stroke="#111" stroke-width="1.3"/>
<ellipse cx="2209.6" cy="602.4" rx="6.4" ry="4" transform="rotate(-14 2209.6 602.4)" fill="none" stroke="#111" stroke-width="1.1"/>
<ellipse cx="2210.0" cy="602.9" rx="3.4" ry="2.2" transform="rotate(-14 2210.0 602.9)" fill="none" stroke="#111" stroke-width="1"/>
</g>
<g id="ventL">
<path class="w2" d="M570.4,278.9H593.2L595,296.5H568.5Z"/>
<circle class="k" cx="581.8" cy="285.6" r="6.4"/>
<circle cx="581.8" cy="284.6" r="2.4" fill="#fff"/>
<rect class="k" x="567.8" y="296.5" width="27.2" height="11.5"/>
<path d="M569.5,299.5H593.5" stroke="#fff" stroke-width="1.4" fill="none"/>
<path d="M571,303.6H575M577,303.6H581M583,303.6H587M589,303.6H593" stroke="#fff" stroke-width="2.6" fill="none"/>
<path d="M568,307.2H595" stroke="#999" stroke-width="0.8" fill="none"/>
</g>
<g id="ventR">
<path class="w2" d="M570.4,278.9H593.2L595,296.5H568.5Z"/>
<circle cx="581.8" cy="284.8" r="5.6" fill="#fff" stroke="#111" stroke-width="2"/>
<circle cx="581.8" cy="283.8" r="3.4" fill="none" stroke="#111" stroke-width="1.2"/>
<path d="M577,288.5Q581.8,292 586.6,288.5" fill="none" stroke="#444" stroke-width="0.9"/>
<rect class="w2" x="567.8" y="296.5" width="27.2" height="11.5"/>
<path class="t2" d="M567.8,302.8H595M567.8,305H595"/>
<path class="t" d="M573,296.5V302.8M575.5,296.5V302.8M588,296.5V302.8M590.5,296.5V302.8"/>
</g>
<g id="ringL">
<!-- small upper ring + connection -->
<rect class="k" x="676" y="429.3" width="50" height="4.2"/><path class="k" d="M700,434L712,436Q722,434.5 729,439.5Q733,444 733.5,449L741,455.5 748,461 744,466 736,460 728,454.5 716,453.5 704,447Z"/><path class="ww" d="M703.5,440.2L711.5,442.6V445L703.5,442.6Z"/>
<circle cx="722.8" cy="444.7" r="5.3" fill="#fff" stroke="#111" stroke-width="6"/>
</g>
<g id="ringR">
<rect class="k" x="676" y="429.3" width="50" height="4.2"/>
<path class="k" d="M700,434L712,436Q722,434.5 729,439.5L731.5,444 728,452 718,453.5 704,447Z"/>
<path class="ww" d="M703.5,440.2L711.5,442.6V445L703.5,442.6Z"/>
<path d="M724.5,443L736.3,434.2" stroke="#111" stroke-width="4.2" stroke-linecap="round" fill="none"/>
<circle cx="722.8" cy="444.7" r="5.3" fill="#fff" stroke="#111" stroke-width="6"/>
<path class="k" d="M728,450L741,455.5 748,461 744,466 736,460 726,455Z"/>
</g>

</defs>
<line x1="1179.5" y1="33" x2="1179.5" y2="908" stroke="#efefef" stroke-width="1"/>
<line x1="1179.5" y1="33" x2="1179.5" y2="908" stroke="#2a2a2a" stroke-width="2.7" stroke-dasharray="50 50"/>
<g id="Ltop"><use href="#toppump"/><use href="#topvalve"/><use href="#capL"/></g>
<g id="Lfront"><use href="#frontpump"/><use href="#ventL"/><use href="#frontpumpL"/><use href="#frontvalve"/><use href="#ringL"/><use href="#bvL"/></g>
<g id="Lside"><use href="#sideA"/><use href="#sidepump"/><use href="#sideB"/><use href="#scapL"/></g>
<g id="Rtop"><g transform="translate(1757.8,118) scale(-0.977,-0.977) translate(-593.7,-125.6)"><use href="#toppump"/></g>
<g transform="translate(2336.3,-3.5) scale(-0.977,0.977)"><use href="#topvalve"/><use href="#capR"/></g></g>
<g id="Rfront" transform="translate(2338.7,20) scale(-0.9805,0.9805)"><use href="#frontpump"/><use href="#ventR"/><use href="#frontpumpR"/><use href="#frontvalve"/><use href="#ringR"/><use href="#bvR"/></g>
<g id="Rside"><g transform="translate(2355.5,22) scale(-0.977,0.977)"><use href="#sideA"/></g><g transform="translate(1963,21.7) scale(0.977,0.977)"><use href="#sidepump"/></g><g transform="translate(2355.5,22) scale(-0.977,0.977)"><use href="#sideB"/></g><use href="#scapR"/></g>
<text x="704.0" y="386.8" text-anchor="middle" style="font-size:10.5px;font-weight:bold;stroke:#111;stroke-width:0.55px">V2</text>
<text x="686.3" y="514.0" text-anchor="middle" style="font-size:10.5px;font-weight:bold;stroke:#111;stroke-width:0.55px">VF</text>
<text x="763.4" y="571.6" text-anchor="middle" style="font-size:10.5px;font-weight:bold;stroke:#111;stroke-width:0.55px">2</text>
<text x="763.4" y="584.2" text-anchor="middle" style="font-size:10.5px;font-weight:bold;stroke:#111;stroke-width:0.55px">1</text>
<text x="1648.4" y="398.8" text-anchor="middle" style="font-size:10.3px;font-weight:bold;stroke:#111;stroke-width:0.55px">V2</text>
<text x="1667.5" y="524.0" text-anchor="middle" style="font-size:10.3px;font-weight:bold;stroke:#111;stroke-width:0.55px">VF</text>
<text x="1590.2" y="580.5" text-anchor="middle" style="font-size:10.3px;font-weight:bold;stroke:#111;stroke-width:0.55px">2</text>
<text x="1590.2" y="592.8" text-anchor="middle" style="font-size:10.3px;font-weight:bold;stroke:#111;stroke-width:0.55px">1</text>
<line class="d" x1="958.0" y1="84.2" x2="1004.0" y2="84.2"/>
<line class="d" x1="918.0" y1="126.0" x2="964.0" y2="126.0"/>
<line class="d" x1="828.0" y1="196.7" x2="964.0" y2="196.7"/>
<line class="d" x1="958.0" y1="84.2" x2="958.0" y2="126.0"/>
<line class="d" x1="958.0" y1="126.0" x2="958.0" y2="196.7"/>
<polygon class="ar" points="958.0,126.0 953.9,149.5 962.1,149.5"/>
<polygon class="ar" points="958.0,196.7 953.9,173.2 962.1,173.2"/>
<text class="n" transform="translate(958.0,75.2) scale(1,1.043)" text-anchor="start">54</text>
<line class="d" x1="213.0" y1="278.6" x2="345.0" y2="278.6"/>
<line class="d" x1="226.0" y1="602.9" x2="267.4" y2="602.9"/>
<line class="d" x1="277.3" y1="602.9" x2="345.0" y2="602.9"/>
<line class="d" x1="338.0" y1="278.6" x2="338.0" y2="420.0"/>
<line class="d" x1="338.0" y1="463.0" x2="338.0" y2="602.9"/>
<polygon class="ar" points="338.0,278.6 333.9,302.1 342.1,302.1"/>
<polygon class="ar" points="338.0,602.9 333.9,579.4 342.1,579.4"/>
<text class="n" transform="translate(302.2,456.1) scale(1,1.043)" text-anchor="start">248</text>
<line class="d" x1="80.8" y1="494.9" x2="160.0" y2="494.9"/>
<line class="d" x1="80.8" y1="560.2" x2="140.0" y2="560.2"/>
<line class="d" x1="87.1" y1="494.9" x2="87.1" y2="560.2"/>
<polygon class="ar" points="87.1,494.9 83.0,518.4 91.2,518.4"/>
<polygon class="ar" points="87.1,560.2 83.0,536.7 91.2,536.7"/>
<line class="d" x1="87.1" y1="560.2" x2="87.1" y2="614.5"/>
<line class="d" x1="39.7" y1="614.5" x2="87.1" y2="614.5"/>
<text class="n" transform="translate(40.7,604.8) scale(1,1.043)" text-anchor="start">50</text>
<line class="d" x1="136.8" y1="592.0" x2="136.8" y2="676.5"/>
<line class="d" x1="272.2" y1="556.0" x2="272.2" y2="676.5"/>
<line class="d" x1="136.8" y1="671.6" x2="272.2" y2="671.6"/>
<polygon class="ar" points="136.8,671.6 160.3,667.5 160.3,675.7"/>
<polygon class="ar" points="272.2,671.6 248.7,667.5 248.7,675.7"/>
<text class="n" transform="translate(172.9,662.0) scale(1,1.043)" text-anchor="start">103</text>
<line class="d" x1="459.8" y1="381.0" x2="459.8" y2="871.7"/>
<line class="d" x1="593.7" y1="488.0" x2="593.7" y2="670.0"/>
<line class="cl" x1="704.4" y1="396.0" x2="704.4" y2="604.0"/>
<line class="d" x1="704.4" y1="604.0" x2="704.4" y2="615.3"/>
<line class="d" x1="704.4" y1="623.0" x2="704.4" y2="729.3"/>
<line class="d" x1="704.4" y1="739.4" x2="704.4" y2="803.2"/>
<line class="d" x1="796.3" y1="474.0" x2="796.3" y2="741.4"/>
<line class="cl" x1="828.5" y1="534.0" x2="828.5" y2="603.0"/>
<line class="d" x1="828.5" y1="603.0" x2="828.5" y2="615.0"/>
<line class="d" x1="828.5" y1="621.7" x2="828.5" y2="803.2"/>
<line class="cl" x1="894.3" y1="568.0" x2="894.3" y2="603.0"/>
<line class="d" x1="894.3" y1="603.0" x2="894.3" y2="615.0"/>
<line class="d" x1="894.3" y1="621.7" x2="894.3" y2="803.2"/>
<line class="d" x1="915.8" y1="588.6" x2="915.8" y2="871.7"/>
<line class="d" x1="593.7" y1="662.8" x2="704.4" y2="662.8"/>
<polygon class="ar" points="593.7,662.8 617.2,658.7 617.2,666.9"/>
<polygon class="ar" points="704.4,662.8 680.9,658.7 680.9,666.9"/>
<line class="d" x1="704.4" y1="662.8" x2="796.3" y2="662.8"/>
<polygon class="ar" points="704.4,662.8 727.9,658.7 727.9,666.9"/>
<polygon class="ar" points="796.3,662.8 772.8,658.7 772.8,666.9"/>
<line class="d" x1="459.8" y1="734.8" x2="796.3" y2="734.8"/>
<polygon class="ar" points="459.8,734.8 483.3,730.7 483.3,738.9"/>
<polygon class="ar" points="796.3,734.8 772.8,730.7 772.8,738.9"/>
<line class="d" x1="704.4" y1="797.6" x2="828.5" y2="797.6"/>
<polygon class="ar" points="704.4,797.6 727.9,793.5 727.9,801.7"/>
<polygon class="ar" points="828.5,797.6 805.0,793.5 805.0,801.7"/>
<line class="d" x1="828.5" y1="797.6" x2="894.3" y2="797.6"/>
<polygon class="ar" points="828.5,797.6 852.0,793.5 852.0,801.7"/>
<polygon class="ar" points="894.3,797.6 870.8,793.5 870.8,801.7"/>
<line class="d" x1="459.8" y1="865.4" x2="915.8" y2="865.4"/>
<polygon class="ar" points="459.8,865.4 483.3,861.3 483.3,869.5"/>
<polygon class="ar" points="915.8,865.4 892.3,861.3 892.3,869.5"/>
<text class="n" transform="translate(626.3,653.5) scale(1,1.043)" text-anchor="start">84</text>
<text class="n" transform="translate(728.8,653.5) scale(1,1.043)" text-anchor="start">70</text>
<text class="n" transform="translate(593.3,725.6) scale(1,1.043)" text-anchor="start">256</text>
<text class="n" transform="translate(726.1,787.7) scale(1,1.043)" text-anchor="start">94,5</text>
<path class="pa" d="M725.5,750.5 Q713.1,773.8 725.5,797.0"/>
<path class="pa" d="M807.5,750.5 Q819.9,773.8 807.5,797.0"/>
<text class="n" transform="translate(838.5,787.7) scale(1,1.043)" text-anchor="start">50</text>
<path class="pa" d="M837.8,750.5 Q825.4,773.8 837.8,797.0"/>
<path class="pa" d="M885.0,750.5 Q897.4,773.8 885.0,797.0"/>
<text class="n" transform="translate(653.4,855.5) scale(1,1.043)" text-anchor="start">347</text>
<path class="pa" d="M652.8,818.8 Q640.4,841.9 652.8,865.0"/>
<path class="pa" d="M723.0,818.8 Q735.4,841.9 723.0,865.0"/>
<line class="d" x1="871.6" y1="494.4" x2="961.1" y2="494.4"/>
<line class="d" x1="855.8" y1="560.1" x2="961.1" y2="560.1"/>
<line class="d" x1="954.1" y1="494.4" x2="954.1" y2="560.1"/>
<polygon class="ar" points="954.1,494.4 950.0,517.9 958.2,517.9"/>
<polygon class="ar" points="954.1,560.1 950.0,536.6 958.2,536.6"/>
<line class="d" x1="954.1" y1="560.1" x2="954.1" y2="657.8"/>
<line class="d" x1="953.2" y1="657.8" x2="1000.8" y2="657.8"/>
<text class="n" transform="translate(954.1,647.9) scale(1,1.043)" text-anchor="start">50</text>
<line class="d" x1="1357.0" y1="87.0" x2="1403.0" y2="87.0"/>
<line class="d" x1="1395.0" y1="119.2" x2="1441.0" y2="119.2"/>
<line class="d" x1="1395.0" y1="187.6" x2="1530.0" y2="187.6"/>
<line class="d" x1="1401.0" y1="87.0" x2="1401.0" y2="119.2"/>
<line class="d" x1="1401.0" y1="119.2" x2="1401.0" y2="187.6"/>
<polygon class="ar" points="1401.0,119.2 1396.9,142.7 1405.1,142.7"/>
<polygon class="ar" points="1401.0,187.6 1396.9,164.1 1405.1,164.1"/>
<text class="nr" transform="translate(1356.1,78.0) scale(1,1.043)" text-anchor="start">54</text>
<line class="d" x1="2017.2" y1="293.3" x2="2149.0" y2="293.3"/>
<line class="d" x1="2017.2" y1="611.9" x2="2085.0" y2="611.9"/>
<line class="d" x1="2094.8" y1="611.9" x2="2134.6" y2="611.9"/>
<line class="d" x1="2024.0" y1="293.3" x2="2024.0" y2="432.0"/>
<line class="d" x1="2024.0" y1="474.0" x2="2024.0" y2="611.9"/>
<polygon class="ar" points="2024.0,293.3 2019.9,316.8 2028.1,316.8"/>
<polygon class="ar" points="2024.0,611.9 2019.9,588.4 2028.1,588.4"/>
<text class="nr" transform="translate(1990.1,466.4) scale(1,1.043)" text-anchor="start">248</text>
<line class="d" x1="2200.0" y1="504.2" x2="2281.0" y2="504.2"/>
<line class="d" x1="2222.0" y1="569.2" x2="2281.0" y2="569.2"/>
<line class="d" x1="2275.2" y1="504.2" x2="2275.2" y2="569.2"/>
<polygon class="ar" points="2275.2,504.2 2271.1,527.7 2279.3,527.7"/>
<polygon class="ar" points="2275.2,569.2 2271.1,545.7 2279.3,545.7"/>
<line class="d" x1="2275.2" y1="569.2" x2="2275.2" y2="638.5"/>
<line class="d" x1="2274.2" y1="638.5" x2="2321.2" y2="638.5"/>
<text class="nr" transform="translate(2276.2,629.8) scale(1,1.043)" text-anchor="start">50</text>
<line class="d" x1="2090.0" y1="565.0" x2="2090.0" y2="681.0"/>
<line class="d" x1="2222.8" y1="600.0" x2="2222.8" y2="681.0"/>
<line class="d" x1="2090.0" y1="676.3" x2="2222.8" y2="676.3"/>
<polygon class="ar" points="2090.0,676.3 2113.5,672.2 2113.5,680.4"/>
<polygon class="ar" points="2222.8,676.3 2199.3,672.2 2199.3,680.4"/>
<text class="nr" transform="translate(2125.9,667.6) scale(1,1.043)" text-anchor="start">103</text>
<line class="d" x1="1440.7" y1="597.0" x2="1440.7" y2="880.8"/>
<line class="cl" x1="1462.9" y1="577.0" x2="1462.9" y2="612.0"/>
<line class="d" x1="1462.9" y1="612.0" x2="1462.9" y2="623.0"/>
<line class="d" x1="1462.9" y1="628.5" x2="1462.9" y2="805.5"/>
<line class="cl" x1="1527.0" y1="544.0" x2="1527.0" y2="612.0"/>
<line class="d" x1="1527.0" y1="612.0" x2="1527.0" y2="623.0"/>
<line class="d" x1="1527.0" y1="628.5" x2="1527.0" y2="805.5"/>
<line class="d" x1="1558.4" y1="485.0" x2="1558.4" y2="742.0"/>
<line class="cl" x1="1648.3" y1="408.0" x2="1648.3" y2="612.0"/>
<line class="d" x1="1648.3" y1="612.0" x2="1648.3" y2="623.0"/>
<line class="d" x1="1648.3" y1="628.5" x2="1648.3" y2="730.5"/>
<line class="d" x1="1648.3" y1="738.7" x2="1648.3" y2="805.5"/>
<line class="d" x1="1757.0" y1="498.0" x2="1757.0" y2="684.2"/>
<line class="d" x1="1887.9" y1="447.0" x2="1887.9" y2="880.8"/>
<line class="d" x1="1558.4" y1="677.9" x2="1648.3" y2="677.9"/>
<polygon class="ar" points="1558.4,677.9 1581.9,673.8 1581.9,682.0"/>
<polygon class="ar" points="1648.3,677.9 1624.8,673.8 1624.8,682.0"/>
<line class="d" x1="1648.3" y1="677.9" x2="1757.0" y2="677.9"/>
<polygon class="ar" points="1648.3,677.9 1671.8,673.8 1671.8,682.0"/>
<polygon class="ar" points="1757.0,677.9 1733.5,673.8 1733.5,682.0"/>
<line class="d" x1="1558.4" y1="734.7" x2="1887.9" y2="734.7"/>
<polygon class="ar" points="1558.4,734.7 1581.9,730.6 1581.9,738.8"/>
<polygon class="ar" points="1887.9,734.7 1864.4,730.6 1864.4,738.8"/>
<line class="d" x1="1462.9" y1="798.9" x2="1527.0" y2="798.9"/>
<polygon class="ar" points="1462.9,798.9 1486.4,794.8 1486.4,803.0"/>
<polygon class="ar" points="1527.0,798.9 1503.5,794.8 1503.5,803.0"/>
<line class="d" x1="1527.0" y1="798.9" x2="1648.3" y2="798.9"/>
<polygon class="ar" points="1527.0,798.9 1550.5,794.8 1550.5,803.0"/>
<polygon class="ar" points="1648.3,798.9 1624.8,794.8 1624.8,803.0"/>
<line class="d" x1="1440.7" y1="874.2" x2="1887.9" y2="874.2"/>
<polygon class="ar" points="1440.7,874.2 1464.2,870.1 1464.2,878.3"/>
<polygon class="ar" points="1887.9,874.2 1864.4,870.1 1864.4,878.3"/>
<text class="nr" transform="translate(1581.4,669.3) scale(1,1.043)" text-anchor="start">70</text>
<text class="nr" transform="translate(1679.9,669.3) scale(1,1.043)" text-anchor="start">84</text>
<text class="nr" transform="translate(1688.8,726.2) scale(1,1.043)" text-anchor="start">256</text>
<text class="nr" transform="translate(1472.4,790.0) scale(1,1.043)" text-anchor="start">50</text>
<path class="pa" d="M1472.0,752.6 Q1459.6,775.5 1472.0,798.5"/>
<path class="pa" d="M1517.0,752.6 Q1529.4,775.5 1517.0,798.5"/>
<text class="nr" transform="translate(1548.4,790.0) scale(1,1.043)" text-anchor="start">94,5</text>
<path class="pa" d="M1548.0,752.6 Q1535.6,775.5 1548.0,798.5"/>
<path class="pa" d="M1627.6,752.6 Q1640.0,775.5 1627.6,798.5"/>
<text class="nr" transform="translate(1631.0,865.0) scale(1,1.043)" text-anchor="start">347</text>
<path class="pa" d="M1631.0,828.5 Q1618.6,851.2 1631.0,874.0"/>
<path class="pa" d="M1698.6,828.5 Q1711.0,851.2 1698.6,874.0"/>
<line class="d" x1="1386.9" y1="504.9" x2="1491.1" y2="504.9"/>
<line class="d" x1="1386.9" y1="569.2" x2="1500.8" y2="569.2"/>
<line class="d" x1="1393.7" y1="504.9" x2="1393.7" y2="569.2"/>
<polygon class="ar" points="1393.7,504.9 1389.6,528.4 1397.8,528.4"/>
<polygon class="ar" points="1393.7,569.2 1389.6,545.7 1397.8,545.7"/>
<line class="d" x1="1393.7" y1="569.2" x2="1393.7" y2="631.4"/>
<line class="d" x1="1347.2" y1="631.4" x2="1393.7" y2="631.4"/>
<text class="nr" transform="translate(1348.5,621.7) scale(1,1.043)" text-anchor="start">50</text>
</svg>
</body></html>
